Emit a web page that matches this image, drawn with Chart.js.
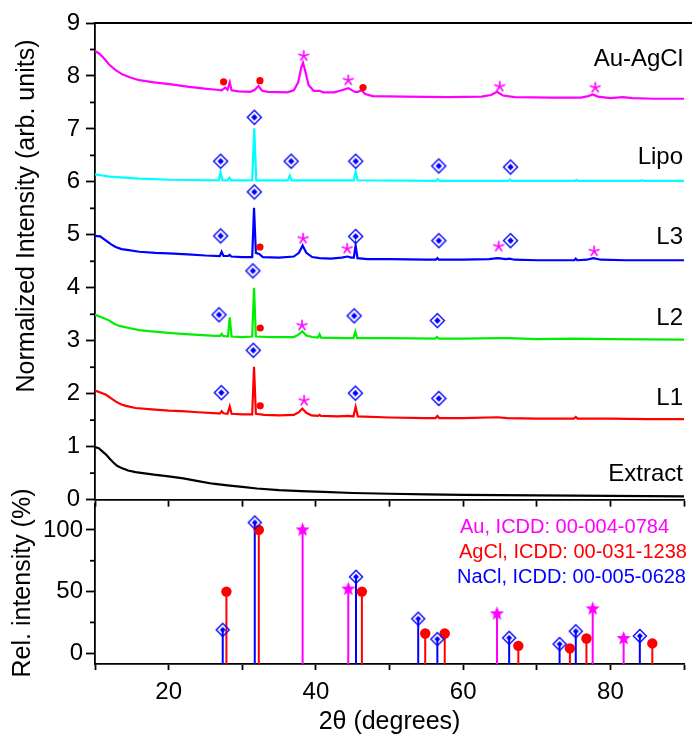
<!DOCTYPE html>
<html><head><meta charset="utf-8">
<script src="https://cdn.jsdelivr.net/npm/chart.js@4.4.1/dist/chart.umd.min.js"></script>
<style>
html,body{margin:0;padding:0;background:#fff;}
#wrap{position:relative;width:692px;height:738px;overflow:hidden;background:#fff;}
#top{position:absolute;left:0;top:0;width:692px;height:520px;}
#bot{position:absolute;left:0;top:460px;width:692px;height:278px;}
</style></head><body>
<div id="wrap"><canvas id="top" width="692" height="520"></canvas><canvas id="bot" width="692" height="278"></canvas></div>
<script>
// ---------------- DATA ----------------
const extractTheta = [10,10.5,11,11.5,12,12.5,13,13.7,14.5,15.5,16.5,18,20,22,24,26,28,30,32,35,38,41,45,50,55,60,65,70,75,80,85,90];
const extractInt   = [0.99,0.97,0.91,0.85,0.77,0.70,0.64,0.59,0.55,0.52,0.50,0.47,0.44,0.40,0.35,0.30,0.27,0.24,0.21,0.18,0.16,0.145,0.125,0.11,0.10,0.09,0.085,0.08,0.075,0.07,0.065,0.06];

const l1Theta = [10,11,11.5,12.2,12.85,13.5,14.2,15.5,17.3,20,21.8,24,26.7,27.0,27.2,27.45,28.0,28.3,28.55,30,31.35,31.6,31.85,33,35,37,37.7,38.15,38.7,39.4,40.3,40.5,40.7,43,44.4,45.1,45.4,45.7,50,55,56.25,56.5,56.75,60,64.6,66,70,75.05,75.3,75.55,80,85,90];
const l1Int   = [2.06,2.01,1.98,1.91,1.85,1.80,1.77,1.73,1.71,1.68,1.67,1.65,1.63,1.63,1.67,1.63,1.62,1.76,1.62,1.61,1.61,2.51,1.62,1.60,1.59,1.60,1.65,1.72,1.64,1.59,1.58,1.60,1.58,1.57,1.58,1.57,1.75,1.57,1.55,1.54,1.54,1.58,1.54,1.54,1.555,1.54,1.53,1.53,1.56,1.53,1.53,1.52,1.52];

const l2Theta = [10,11,11.95,12.6,13.3,14.6,16,17.3,20,21.8,24,26.3,27.0,27.2,27.4,28.05,28.3,28.55,30,31.35,31.6,31.85,34,37,37.6,38.15,38.7,39.5,40.3,40.5,40.7,44,45.1,45.35,45.6,50,56.2,56.45,56.7,60,64.8,66.2,70,75.3,80,90];
const l2Int   = [3.49,3.44,3.38,3.32,3.28,3.24,3.20,3.18,3.15,3.13,3.11,3.09,3.09,3.13,3.09,3.08,3.44,3.08,3.07,3.08,4.00,3.08,3.07,3.07,3.11,3.18,3.10,3.07,3.06,3.12,3.06,3.05,3.05,3.17,3.05,3.05,3.04,3.07,3.04,3.04,3.05,3.05,3.03,3.04,3.03,3.02];

const l3Theta = [10,10.7,11.5,12.2,12.8,13.6,14.6,16,18.2,20,22.6,25,26.95,27.2,27.45,28.1,28.3,28.5,30,31.35,31.6,31.85,32.3,32.8,35,37,37.7,38.2,38.7,39.5,40.5,42,43.5,44.3,44.8,45.15,45.4,45.65,47,50,55,56.3,56.5,56.7,60,63.5,64.7,65.8,66.3,67,70,75.1,75.3,75.5,76.8,77.7,78.7,82,86,90];
const l3Int   = [4.98,4.97,4.89,4.82,4.77,4.73,4.71,4.68,4.66,4.65,4.63,4.61,4.60,4.68,4.60,4.60,4.62,4.59,4.58,4.58,5.51,4.66,4.64,4.58,4.57,4.59,4.66,4.80,4.66,4.58,4.56,4.55,4.57,4.59,4.57,4.57,4.80,4.56,4.54,4.54,4.53,4.53,4.56,4.53,4.53,4.54,4.56,4.54,4.55,4.53,4.52,4.52,4.55,4.52,4.53,4.56,4.53,4.52,4.52,4.52];

const lipoTheta = [10,11,12,14,16,18,20,23,26.8,27.05,27.3,28.0,28.25,28.5,31.35,31.63,31.9,36.2,36.45,36.7,45.15,45.4,45.65,56.3,56.55,56.8,66.1,66.35,66.6,75.2,75.4,75.6,84.1,84.3,84.5,90];
const lipoInt   = [6.14,6.12,6.10,6.08,6.06,6.05,6.04,6.035,6.03,6.18,6.03,6.03,6.08,6.03,6.03,7.01,6.03,6.03,6.12,6.03,6.03,6.19,6.03,6.02,6.05,6.02,6.02,6.045,6.02,6.02,6.035,6.02,6.02,6.03,6.02,6.02];

const auagTheta = [10,10.6,11.3,11.95,12.8,13.7,14.8,16,18,20.4,22.5,24.9,26.5,27.2,27.7,28.0,28.3,28.55,29.5,31.1,31.7,32.2,32.7,33.5,36.1,37.0,37.6,38.0,38.25,38.55,39.0,39.7,40.5,41,42.5,43.5,44.4,45.3,45.7,46.2,46.7,47.7,52,58,62.5,63.8,64.6,65.4,67,72,76,77.0,77.6,78.3,80,81.7,83,86,90];
const auagInt   = [8.47,8.42,8.32,8.21,8.11,8.03,7.97,7.92,7.88,7.84,7.80,7.76,7.74,7.73,7.78,7.74,7.88,7.73,7.71,7.70,7.74,7.81,7.72,7.70,7.69,7.73,7.88,8.15,8.25,8.10,7.83,7.72,7.72,7.69,7.69,7.73,7.77,7.70,7.70,7.73,7.66,7.62,7.61,7.60,7.61,7.64,7.70,7.63,7.60,7.59,7.59,7.62,7.65,7.61,7.58,7.60,7.58,7.57,7.57];

// phase markers above the patterns
const diamondTheta = [27.07,31.64,36.64,45.41,56.69,66.44, 31.64,27.07,45.4,56.7,66.44, 31.45,26.85,45.2,56.5, 31.5,27.16,45.37,56.7];
const diamondInt   = [6.39,7.22,6.39,6.39,6.30,6.28, 5.81,4.98,4.97,4.89,4.89, 4.32,3.49,3.47,3.38, 2.82,2.02,2.01,1.91];
const dotTheta = [27.47,32.4,46.4,32.4,32.44,32.44];
const dotInt   = [7.89,7.91,7.78,4.77,3.24,1.77];
const starTheta = [38.35,44.4,64.97,77.95,38.26,44.25,64.83,77.8,38.12,38.4];
const starInt   = [8.38,7.92,7.80,7.78,4.93,4.74,4.78,4.69,3.29,1.87];

// curve labels
const curveLabels = ['Au-AgCl','Lipo','L3','L2','L1','Extract'];
const curveLabelY = [8.31,6.47,4.95,3.42,1.91,0.47];

// reference patterns (ICDD)
const auRefTheta = [38.2,44.4,64.6,77.6,81.8];
const auRefRel   = [100,52,32,36,12];
const agclRefTheta = [27.85,32.25,46.25,54.85,57.5,67.5,74.5,76.75,85.7];
const agclRefRel   = [50,100,50,16,16,6,4,12,8];
const naclRefTheta = [27.35,31.7,45.45,53.9,56.5,66.25,73.1,75.3,84.0];
const naclRefRel   = [19,106,62,28,11.5,12.5,7.5,17.8,14];
const refLegend = ['Au, ICDD: 00-004-0784','AgCl, ICDD: 00-031-1238','NaCl, ICDD: 00-005-0628'];

// ticks
const topMinorTicks = [0.5,1.5,2.5,3.5,4.5,5.5,6.5,7.5,8.5];
const botMinorTicks = [25,75];
const xLabelled = [20,40,60,80];

// ---------------- STYLE ----------------
const FONT = "'Liberation Sans', Arial, Helvetica, sans-serif";
const BLUE = '#0000ff', RED = '#ff0000', MAG = '#ff00ff', GREEN = '#00ee00', CYAN = '#00ffff';
const AXW = 1.8;
const STEM_BASE = -8.7;

function pts(xs, ys){ return xs.map((x,i)=>({x:x, y:ys[i]})); }
function stems(xs, ys){ const out=[]; xs.forEach((x,i)=>{ out.push({x:x,y:STEM_BASE}); out.push({x:x,y:ys[i]}); out.push({x:x,y:null}); }); return out; }

function makeDiamond(h, lw, inner){
  const s = Math.ceil(2*h + lw + 3); const c = document.createElement('canvas'); c.width = s; c.height = s;
  const g = c.getContext('2d'); const m = s/2;
  g.strokeStyle = BLUE; g.lineWidth = lw;
  g.beginPath(); g.moveTo(m, m-h); g.lineTo(m+h, m); g.lineTo(m, m+h); g.lineTo(m-h, m); g.closePath(); g.stroke();
  g.fillStyle = BLUE; g.beginPath(); g.moveTo(m, m-inner); g.lineTo(m+inner, m); g.lineTo(m, m+inner); g.lineTo(m-inner, m); g.closePath(); g.fill();
  return c;
}
function makeStar(R, r){
  const s = Math.ceil(2*R + 2); const c = document.createElement('canvas'); c.width = s; c.height = s;
  const g = c.getContext('2d'); const m = s/2;
  g.fillStyle = MAG; g.beginPath();
  for (let k=0;k<10;k++){ const a = -Math.PI/2 + k*Math.PI/5; const rr = (k%2===0)?R:r; const px = m + rr*Math.cos(a), py = m + rr*Math.sin(a); if(k===0) g.moveTo(px,py); else g.lineTo(px,py); }
  g.closePath(); g.fill(); return c;
}
function makeAsterisk(R, lw){
  const s = Math.ceil(2*R + 4); const c = document.createElement('canvas'); c.width = s; c.height = s;
  const g = c.getContext('2d'); const m = s/2;
  g.strokeStyle = MAG; g.lineWidth = lw; g.lineCap = 'round';
  for (let k=0;k<5;k++){ const a = -Math.PI/2 + k*2*Math.PI/5; g.beginPath(); g.moveTo(m, m); g.lineTo(m + R*Math.cos(a), m + R*Math.sin(a)); g.stroke(); }
  return c;
}
const diamondTop = makeDiamond(7, 1.4, 3.2);
const diamondBot = makeDiamond(6.5, 1.4, 3);
const starBot = makeStar(7.5, 3.2);
const asterTop = makeAsterisk(5, 1.7);

const deco = {
  id: 'deco',
  afterDraw(chart, args, o){
    const ctx = chart.ctx, ca = chart.chartArea, ys = chart.scales.y;
    ctx.save();
    ctx.strokeStyle = '#000'; ctx.lineWidth = AXW;
    for (const v of o.minorY){ const p = ys.getPixelForValue(v); ctx.beginPath(); ctx.moveTo(ca.left - o.minorLen, p); ctx.lineTo(ca.left, p); ctx.stroke(); }
    if (o.topBorder){ ctx.beginPath(); ctx.moveTo(ca.left - AXW/2, ca.top); ctx.lineTo(chart.width, ca.top); ctx.stroke(); }
    for (const t of o.texts){
      ctx.save();
      ctx.font = t.font; ctx.fillStyle = t.color || '#000'; ctx.textAlign = t.align || 'center'; ctx.textBaseline = 'middle';
      const x = typeof t.x === 'function' ? t.x(chart) : t.x;
      const y = typeof t.y === 'function' ? t.y(chart) : t.y;
      ctx.translate(x, y); if (t.rot) ctx.rotate(t.rot);
      ctx.fillText(t.text, 0, 0);
      ctx.restore();
    }
    ctx.restore();
  }
};

function curve(xs, ys, color){
  return {type:'line', data: pts(xs, ys), borderColor: color, borderWidth: 2.2, pointRadius: 0, tension: 0, fill: false, order: 2};
}

const topTexts = [
  {text:'Normalized Intensity (arb. units)', font:'25px '+FONT, x:27, y:216, rot:-Math.PI/2}
];
curveLabels.forEach((s,i)=>{
  topTexts.push({text:s, font:'24px '+FONT, align:'right', x:(c)=>c.chartArea.right - 1, y:(c)=>c.scales.y.getPixelForValue(curveLabelY[i])});
});

new Chart(document.getElementById('top'), {
  type: 'line',
  data: { datasets: [
    {type:'scatter', data: pts(diamondTheta, diamondInt), pointStyle: diamondTop, pointRadius: 7, order: 0},
    {type:'scatter', data: pts(dotTheta, dotInt), pointStyle: 'circle', pointRadius: 3.6, backgroundColor: RED, borderWidth: 0, order: 0},
    {type:'scatter', data: pts(starTheta, starInt), pointStyle: asterTop, pointRadius: 5, order: 0},
    curve(auagTheta, auagInt, MAG),
    curve(lipoTheta, lipoInt, CYAN),
    curve(l3Theta, l3Int, BLUE),
    curve(l2Theta, l2Int, GREEN),
    curve(l1Theta, l1Int, RED),
    curve(extractTheta, extractInt, '#000')
  ]},
  options: {
    responsive: false, animation: false, events: [],
    layout: { padding: { top: 23, left: 0, right: 1, bottom: 0 } },
    plugins: { legend: { display: false }, tooltip: { enabled: false },
      deco: { minorY: topMinorTicks, minorLen: 5, topBorder: true, texts: topTexts } },
    scales: {
      x: { type: 'linear', min: 10, max: 90,
        ticks: { stepSize: 10, callback: () => '', autoSkip: false, maxRotation: 0 },
        grid: { drawOnChartArea: false, drawTicks: true, tickLength: 7, tickColor: '#000', tickWidth: AXW },
        border: { display: true, color: '#000', width: AXW },
        afterFit(s){ s.height = 16; } },
      y: { type: 'linear', min: 0, max: 9,
        ticks: { stepSize: 1, color: '#000', font: { family: FONT, size: 24 }, padding: 6 },
        grid: { drawOnChartArea: false, drawTicks: true, tickLength: 9, tickColor: '#000', tickWidth: AXW },
        border: { display: true, color: '#000', width: AXW },
        afterFit(s){ s.width = 95; } }
    }
  },
  plugins: [deco]
});

const botTexts = [
  {text:'Rel. intensity (%)', font:'25px '+FONT, x:23, y:123, rot:-Math.PI/2},
  {text:'2\u03B8 (degrees)', font:'25px '+FONT, x:(c)=>(c.chartArea.left + c.chartArea.right)/2, y:262},
  {text:refLegend[0], font:'20px '+FONT, color:MAG, align:'left', x:460, y:67},
  {text:refLegend[1], font:'20px '+FONT, color:RED, align:'left', x:459, y:92},
  {text:refLegend[2], font:'20px '+FONT, color:BLUE, align:'left', x:457, y:117}
];

function stemSet(xs, ys, color){
  return {type:'line', data: stems(xs, ys), borderColor: color, borderWidth: 2, pointRadius: 0, spanGaps: false, tension: 0, order: 1};
}

new Chart(document.getElementById('bot'), {
  type: 'line',
  data: { datasets: [
    {type:'scatter', data: pts(naclRefTheta, naclRefRel), pointStyle: diamondBot, pointRadius: 7, order: 0},
    {type:'scatter', data: pts(agclRefTheta, agclRefRel), pointStyle: 'circle', pointRadius: 5.2, backgroundColor: RED, borderWidth: 0, order: 0},
    {type:'scatter', data: pts(auRefTheta, auRefRel), pointStyle: starBot, pointRadius: 7, order: 0},
    stemSet(naclRefTheta, naclRefRel, BLUE),
    stemSet(agclRefTheta, agclRefRel, RED),
    stemSet(auRefTheta, auRefRel, MAG)
  ]},
  options: {
    responsive: false, animation: false, events: [],
    layout: { padding: { top: 44, left: 0, right: 1, bottom: 0 } },
    plugins: { legend: { display: false }, tooltip: { enabled: false },
      deco: { minorY: botMinorTicks, minorLen: 5, topBorder: false, texts: botTexts } },
    scales: {
      x: { type: 'linear', min: 10, max: 90,
        ticks: { stepSize: 10, autoSkip: false, maxRotation: 0, color: '#000', font: { family: FONT, size: 24 }, padding: 8,
          callback: (v) => xLabelled.includes(v) ? String(v) : '' },
        grid: { drawOnChartArea: false, drawTicks: true, tickLength: 6, tickColor: '#000', tickWidth: AXW },
        border: { display: true, color: '#000', width: AXW },
        afterFit(s){ s.height = 74; } },
      y: { type: 'linear', min: STEM_BASE, max: 121,
        ticks: { stepSize: 50, includeBounds: false, color: '#000', font: { family: FONT, size: 24 }, padding: 3 },
        grid: { drawOnChartArea: false, drawTicks: true, tickLength: 9, tickColor: '#000', tickWidth: AXW },
        border: { display: true, color: '#000', width: AXW },
        afterFit(s){ s.width = 95; } }
    }
  },
  plugins: [deco]
});
</script>
</body></html>
